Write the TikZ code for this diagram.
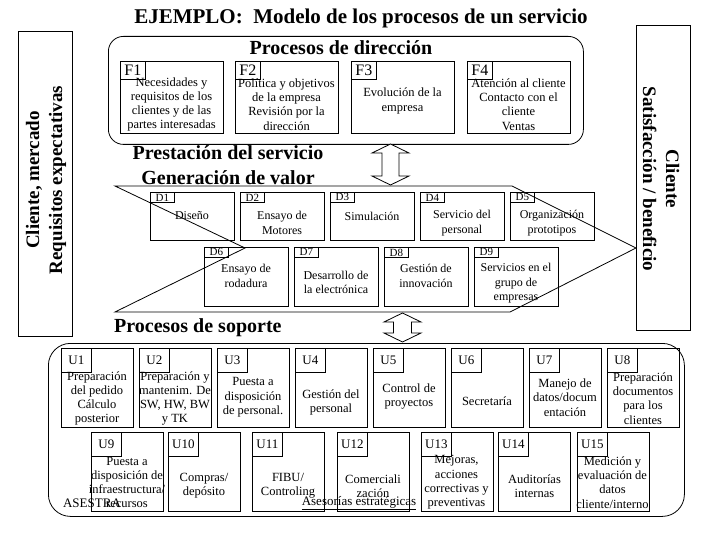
\documentclass[tikz,border=0pt]{standalone}
\usepackage{fontspec}
\setmainfont{Liberation Serif}
\usetikzlibrary{positioning}
\tikzset{
  boxline/.style={draw=black, line width=0.8pt},
  sidebox/.style={rectangle, boxline, anchor=north west, inner sep=0pt,
                  minimum width=54pt, minimum height=305pt},
  groupbox/.style={rectangle, boxline, anchor=north west, inner sep=0pt},
  fproc/.style={rectangle, boxline, anchor=north west, inner sep=0pt,
                minimum width=103pt, minimum height=72pt},
  flab/.style={rectangle, boxline, anchor=north west, inner sep=0pt,
               minimum width=25pt, minimum height=18pt, font=\fontsize{16}{16}\selectfont},
  dproc/.style={rectangle, boxline, anchor=north west, inner sep=0pt,
                minimum width=84pt, minimum height=48pt},
  dproclow/.style={dproc, minimum height=59pt},
  dlab/.style={rectangle, boxline, anchor=north west, inner sep=0pt,
               minimum width=24pt, minimum height=10pt, font=\fontsize{11}{11}\selectfont},
  uproc/.style={rectangle, boxline, anchor=north west, inner sep=0pt,
                minimum width=72pt, minimum height=79pt},
  ulab/.style={rectangle, boxline, anchor=north west, inner sep=0pt,
               minimum width=30pt, minimum height=24pt, font=\fontsize{13}{13}\selectfont},
  ptext/.style={align=center, inner sep=0pt, font=\fontsize{12.5}{14.3}\selectfont},
  dtext/.style={align=center, inner sep=0pt, font=\fontsize{12}{14.5}\selectfont},
  heading/.style={inner sep=0pt, font=\fontsize{20}{25}\selectfont\bfseries},
  sidetext/.style={align=center, inner sep=0pt, font=\fontsize{19}{23}\selectfont\bfseries},
  blockarrow/.style={boxline, fill=white, line join=miter},
}

\begin{document}
\begin{tikzpicture}[x=1pt, y=-1pt]
    \fill[white] (0,0) rectangle (720,540);
    \useasboundingbox (0,0) rectangle (720,540);
    \node[heading, font=\fontsize{21}{25}\selectfont\bfseries] (title) at (361,18)
        {EJEMPLO:\ \ Modelo de los procesos de un servicio};
    % customer sides
    \node[sidebox] (mkt) at (18,31) {};
    \node[sidetext, rotate=90] (mkttext) at (46,180) {Cliente, mercado\\Requisitos expectativas};
    \node[sidebox] (cli) at (636,25) {};
    \node[sidetext, rotate=-90] (clitext) at (661,179) {Cliente\\Satisfacción / beneficio};
    % management processes
    \node[groupbox, rounded corners=15pt, minimum width=475pt, minimum height=108pt] (dir) at (108,36) {};
    \node[heading] (dirtitle) at (341,48) {Procesos de dirección};
    \node[fproc] (F1) at (120,61) {};
    \node[flab] (F1l) at (F1.north west) {F1};
    \node[ptext] (F1t) at (171.5,104.5) {Necesidades y\\requisitos de los\\clientes y de las\\partes interesadas};
    \node[fproc] (F2) at (235,61) {};
    \node[flab] (F2l) at (F2.north west) {F2};
    \node[ptext] (F2t) at (286.5,104.5) {Política y objetivos\\de la empresa\\Revisión por la\\dirección};
    \node[fproc] (F3) at (351,61) {};
    \node[flab] (F3l) at (F3.north west) {F3};
    \node[ptext] (F3t) at (402.5,101) {Evolución de la\\empresa};
    \node[fproc] (F4) at (467,61) {};
    \node[flab] (F4l) at (F4.north west) {F4};
    \node[ptext] (F4t) at (518.5,104.5) {Atención al cliente\\Contacto con el\\cliente\\Ventas};
    % service delivery
    \node[heading] (deltitle) at (228,153) {Prestación del servicio};
    \node[heading] (valtitle) at (228,178) {Generación de valor};
    \draw[boxline, line join=miter] (115,186) -- (512,186) -- (636,248) -- (510,312)
        -- (115,312) -- (245,248) -- cycle;
    \node[dproc] (D1) at (150,192) {};
    \node[dlab] (D1l) at (D1.north west) {D1};
    \node[dtext] (D1t) at (192,216) {Diseño};
    \node[dproc] (D2) at (240,192) {};
    \node[dlab] (D2l) at (D2.north west) {D2};
    \node[dtext] (D2t) at (282,223) {Ensayo de\\Motores};
    \node[dproc] (D3) at (330,192) {};
    \node[dlab] (D3l) at (D3.north west) {D3};
    \node[dtext] (D3t) at (372,216) {Simulación};
    \node[dproc] (D4) at (420,192) {};
    \node[dlab] (D4l) at (D4.north west) {D4};
    \node[dtext] (D4t) at (462,223) {Servicio del\\personal};
    \node[dproc] (D5) at (510,192) {};
    \node[dlab] (D5l) at (D5.north west) {D5};
    \node[dtext] (D5t) at (552,223) {Organización\\prototipos};
    \node[dproclow] (D6) at (204,247) {};
    \node[dlab] (D6l) at (D6.north west) {D6};
    \node[dtext] (D6t) at (246,276) {Ensayo de\\rodadura};
    \node[dproclow] (D7) at (294,247) {};
    \node[dlab] (D7l) at (D7.north west) {D7};
    \node[dtext] (D7t) at (336,282.5) {Desarrollo de\\la electrónica};
    \node[dproclow] (D8) at (384,247) {};
    \node[dlab] (D8l) at (D8.north west) {D8};
    \node[dtext] (D8t) at (426,276) {Gestión de\\innovación};
    \node[dproclow] (D9) at (474,247) {};
    \node[dlab] (D9l) at (D9.north west) {D9};
    \node[dtext] (D9t) at (516,283.5) {Servicios en el\\grupo de\\empresas};
    % wide two-way arrows
    \coordinate (arrA) at (390.5,144);
    \draw[blockarrow] (arrA) -- ++(18.5,9) -- ++(-10,0) -- ++(0,23) -- ++(10,0) -- ++(-18.5,9)
        -- ++(-18.5,-9) -- ++(10,0) -- ++(0,-23) -- ++(-10,0) -- cycle;
    \coordinate (arrB) at (402.5,313);
    \draw[blockarrow] (arrB) -- ++(18.5,9) -- ++(-9.5,0) -- ++(0,11) -- ++(9.5,0) -- ++(-18.5,9)
        -- ++(-18.5,-9) -- ++(9.5,0) -- ++(0,-11) -- ++(-9.5,0) -- cycle;
    % support processes
    \node[heading, anchor=west] (suptitle) at (114,328) {Procesos de soporte};
    \node[groupbox, rounded corners=22pt, minimum width=636pt, minimum height=173pt] (sup) at (48,343) {};
    \node[uproc] (U1) at (61,348) {};
    \node[ulab] (U1l) at (U1.north west) {U1};
    \node[ptext] (U1t) at (97,398.5) {Preparación\\del pedido\\Cálculo\\posterior};
    \node[uproc] (U2) at (139,348) {};
    \node[ulab] (U2l) at (U2.north west) {U2};
    \node[ptext] (U2t) at (175,398.5) {Preparación y\\mantenim. De\\SW, HW, BW\\y TK};
    \node[uproc] (U3) at (217,348) {};
    \node[ulab] (U3l) at (U3.north west) {U3};
    \node[ptext] (U3t) at (253,397.5) {Puesta a\\disposición\\de personal.};
    \node[uproc] (U4) at (295,348) {};
    \node[ulab] (U4l) at (U4.north west) {U4};
    \node[ptext] (U4t) at (331,402.5) {Gestión del\\personal};
    \node[uproc] (U5) at (373,348) {};
    \node[ulab] (U5l) at (U5.north west) {U5};
    \node[ptext] (U5t) at (409,396.5) {Control de\\proyectos};
    \node[uproc] (U6) at (451,348) {};
    \node[ulab] (U6l) at (U6.north west) {U6};
    \node[ptext] (U6t) at (487,401) {Secretaría};
    \node[uproc] (U7) at (529,348) {};
    \node[ulab] (U7l) at (U7.north west) {U7};
    \node[ptext] (U7t) at (565,397.5) {Manejo de\\datos/docum\\entación};
    \node[uproc] (U8) at (607,348) {};
    \node[ulab] (U8l) at (U8.north west) {U8};
    \node[ptext] (U8t) at (643,398.5) {Preparación\\documentos\\para los\\clientes};
    \node[uproc] (U9) at (91,432) {};
    \node[ulab] (U9l) at (U9.north west) {U9};
    \node[ptext] (U9t) at (127,482.5) {Puesta a\\disposición de\\infraestructura/\\recursos};
    \node[uproc] (U10) at (168,432) {};
    \node[ulab] (U10l) at (U10.north west) {U10};
    \node[ptext] (U10t) at (204,486) {Compras/\\depósito};
    \node[uproc] (U11) at (252,432) {};
    \node[ulab] (U11l) at (U11.north west) {U11};
    \node[ptext] (U11t) at (288,486) {FIBU/\\Controling};
    \node[uproc] (U12) at (337,432) {};
    \node[ulab] (U12l) at (U12.north west) {U12};
    \node[ptext] (U12t) at (373,486) {Comerciali\\zación};
    \node[uproc] (U13) at (421,432) {};
    \node[ulab] (U13l) at (U13.north west) {U13};
    \node[ptext] (U13t) at (456.5,482.5) {Mejoras,\\acciones\\correctivas y\\preventivas};
    \node[uproc] (U14) at (498,432) {};
    \node[ulab] (U14l) at (U14.north west) {U14};
    \node[ptext] (U14t) at (534.5,486) {Auditorías\\internas};
    \node[uproc] (U15) at (577,432) {};
    \node[ulab] (U15l) at (U15.north west) {U15};
    \node[ptext] (U15t) at (612.5,482.5) {Medición y\\evaluación de\\datos\\cliente/interno};
    \node[inner sep=0pt, font=\fontsize{13}{13}\selectfont] (asestra) at (92,503) {ASESTRA};
    \node[inner sep=0pt, font=\fontsize{13}{13}\selectfont] (asesor) at (359,503) {\underline{Asesorías estratégicas}};
\end{tikzpicture}
\end{document}
